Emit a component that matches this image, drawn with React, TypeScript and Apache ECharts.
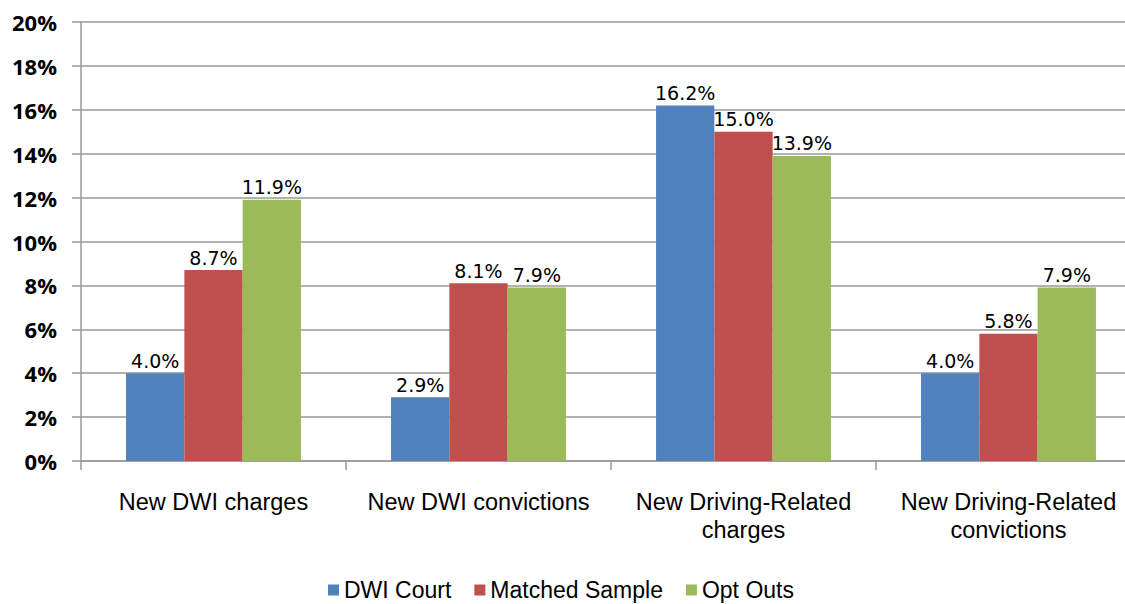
import React, { useEffect, useRef } from "react";
import * as echarts from "echarts";

const categories = [
  "New DWI charges",
  "New DWI convictions",
  "New Driving-Related\ncharges",
  "New Driving-Related\nconvictions",
];
const seriesNames = ["DWI Court", "Matched Sample", "Opt Outs"];
const dwiCourt = [4.0, 2.9, 16.2, 4.0];
const matchedSample = [8.7, 8.1, 15.0, 5.8];
const optOuts = [11.9, 7.9, 13.9, 7.9];
const colors = ["#4F81BD", "#C0504D", "#9BBB59"];

export default function App() {
  const ref = useRef<HTMLDivElement>(null);
  useEffect(() => {
    if (!ref.current) return;
    const chart = echarts.init(ref.current, null, { renderer: "svg" });
    const data = [dwiCourt, matchedSample, optOuts];
    chart.setOption({
      animation: false,
      backgroundColor: "#ffffff",
      grid: { left: 81, right: 0, top: 22, bottom: 143, containLabel: false },
      legend: {
        top: 578,
        left: 328,
        padding: 0,
        itemWidth: 11,
        itemHeight: 11,
        itemGap: 23,
        icon: "rect",
        textStyle: { fontFamily: "Liberation Sans", fontSize: 23, lineHeight: 24, color: "#000" },
        data: seriesNames,
      },
      xAxis: {
        type: "category",
        data: categories,
        axisLine: { lineStyle: { color: "#999", width: 1.5 } },
        axisTick: { show: true, length: 9, lineStyle: { color: "#999", width: 1.5 } },
        axisLabel: {
          interval: 0,
          margin: 27,
          fontFamily: "Liberation Sans",
          fontSize: 23.5,
          color: "#000",
          lineHeight: 28,
        },
      },
      yAxis: {
        type: "value",
        min: 0,
        max: 20,
        interval: 2,
        axisLine: { show: true, lineStyle: { color: "#999", width: 1.5 } },
        axisTick: { show: true, length: 9, lineStyle: { color: "#999", width: 1.5 } },
        splitLine: { lineStyle: { color: "#999", width: 1.5 } },
        axisLabel: {
          margin: 24,
          formatter: "{value}%",
          fontFamily: "Open Sans",
          fontWeight: "bold",
          fontSize: 22,
          color: "#000",
        },
      },
      series: seriesNames.map((name, i) => ({
        name,
        type: "bar",
        data: data[i],
        barGap: "0%",
        barCategoryGap: "34%",
        itemStyle: { color: colors[i] },
        label: {
          show: true,
          position: "top",
          distance: 3,
          formatter: (p: any) => p.value.toFixed(1) + "%",
          fontFamily: "DejaVu Sans",
          fontSize: 19,
          color: "#000",
        },
      })),
    });
    return () => chart.dispose();
  }, []);
  return (
    <div
      style={{
        position: "fixed",
        left: 0,
        top: 0,
        width: 1125,
        height: 604,
        overflow: "hidden",
        background: "#fff",
      }}
    >
      <div ref={ref} style={{ width: 1141, height: 604 }} />
    </div>
  );
}
